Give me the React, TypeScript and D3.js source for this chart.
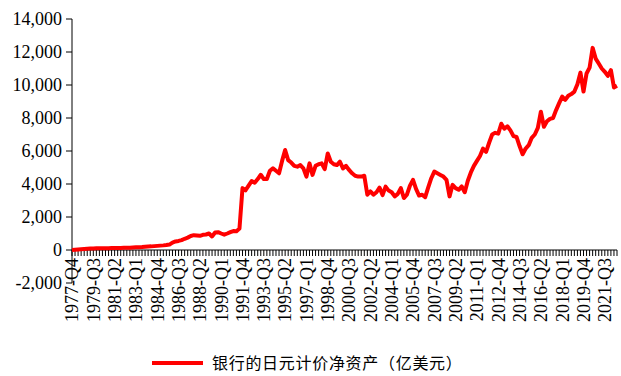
import React from "react";
import * as d3 from "d3";

const startYear = 1977;
const startQuarter = 4;

const netAssets: number[] = [
  0, 15, 30, 45, 60, 75, 85, 95, 100, 100,
  105, 110, 110, 115, 120, 120, 125, 130, 135, 140,
  150, 160, 170, 180, 195, 210, 220, 235, 250, 265,
  280, 300, 330, 450, 520, 550, 600, 680, 750, 850,
  900, 880, 860, 920, 940, 1000, 820, 1060, 1080, 1000,
  930, 1000, 1080, 1150, 1130, 1300, 3750, 3620, 3900, 4180,
  4080, 4300, 4560, 4300, 4300, 4800, 4950, 4800, 4650, 5400,
  6060, 5450, 5300, 5100, 5050, 5150, 4950, 4450, 5250, 4550,
  5100, 5200, 5250, 4900, 5850, 5350, 5200, 5150, 5350, 4950,
  5100, 4850, 4650, 4500, 4450, 4450, 4500, 3350, 3550, 3350,
  3500, 3780, 3330, 3840, 3600, 3500, 3250, 3400, 3750, 3150,
  3350, 3900, 4250, 3700, 3300, 3350, 3200, 3800, 4350, 4750,
  4650, 4550, 4450, 4250, 3250, 3950, 3750, 3650, 3850, 3500,
  4200, 4700, 5100, 5400, 5700, 6150, 5950, 6500, 7000, 7100,
  7050, 7650, 7350, 7500, 7250, 6900, 6850, 6300, 5800, 6150,
  6350, 6800, 7000, 7400, 8380, 7470, 7800, 7950, 8000, 8480,
  8900, 9300, 9100, 9350, 9450, 9600, 10050, 10750, 9600, 10700,
  11050, 12250, 11600, 11300, 11000, 10800, 10550, 10900, 9850, 9950,
];

const yTicks: number[] = [-2000, 0, 2000, 4000, 6000, 8000, 10000, 12000, 14000];

const xTickLabels: string[] = [
  "1977-Q4", "1979-Q3", "1981-Q2", "1983-Q1", "1984-Q4", "1986-Q3", "1988-Q2",
  "1990-Q1", "1991-Q4", "1993-Q3", "1995-Q2", "1997-Q1", "1998-Q4", "2000-Q3",
  "2002-Q2", "2004-Q1", "2005-Q4", "2007-Q3", "2009-Q2", "2011-Q1", "2012-Q4",
  "2014-Q3", "2016-Q2", "2018-Q1", "2019-Q4", "2021-Q3",
];

const seriesName = "银行的日元计价净资产（亿美元）";

const categories: string[] = netAssets.map((_, i) => {
  const q = startQuarter - 1 + i;
  return `${startYear + Math.floor(q / 4)}-Q${(q % 4) + 1}`;
});

export default function App() {
  const W = 621;
  const H = 376;
  const left = 72;
  const right = 617;
  const top = 19;
  const bottom = 283;

  const x = d3.scaleLinear().domain([0, categories.length - 1]).range([left, right]);
  const y = d3.scaleLinear().domain([-2000, 14000]).range([bottom, top]);
  const y0 = y(0);

  const line = d3
    .line<number>()
    .x((_, i) => x(i))
    .y((d) => y(d));

  const fmt = (v: number) => d3.format(",")(v).replace("\u2212", "-");
  const serif = "'Liberation Serif', 'DejaVu Serif', serif";

  return (
    <svg
      width={W}
      height={H}
      style={{ position: "absolute", left: 0, top: 0, background: "#fff" }}
    >
      {/* y axis */}
      <line x1={left} x2={left} y1={top} y2={bottom} stroke="#000" strokeWidth={1} />
      {yTicks.map((t) => (
        <g key={t}>
          <line x1={left - 6} x2={left} y1={y(t)} y2={y(t)} stroke="#000" strokeWidth={1} />
          <text
            x={left - 10}
            y={y(t)}
            dy="0.35em"
            textAnchor="end"
            fontFamily={serif}
            fontSize={18}
            fill="#000"
          >
            {fmt(t)}
          </text>
        </g>
      ))}

      {/* x axis */}
      <line x1={left} x2={right} y1={y0} y2={y0} stroke="#000" strokeWidth={1} />
      {categories.map((c, i) => (
        <line key={c} x1={x(i)} x2={x(i)} y1={y0} y2={y0 + 6} stroke="#000" strokeWidth={1} />
      ))}
      {categories.map((c, i) =>
        xTickLabels.includes(c) ? (
          <text
            key={"l" + c}
            transform={`translate(${x(i)},${y0 + 8}) rotate(-90)`}
            dy="0.35em"
            textAnchor="end"
            fontFamily={serif}
            fontSize={18}
            fill="#000"
          >
            {c}
          </text>
        ) : null
      )}

      {/* series */}
      <path
        d={line(netAssets) || ""}
        fill="none"
        stroke="#FF0000"
        strokeWidth={4}
        strokeLinejoin="round"
      />

      {/* legend */}
      <line x1={152} x2={203} y1={363} y2={363} stroke="#FF0000" strokeWidth={4} />
      <text
        x={212}
        y={369}
        fontFamily="'Noto Sans CJK SC', sans-serif"
        fontSize={16}
        letterSpacing={0.7}
        fill="#000"
      >
        {seriesName}
      </text>
    </svg>
  );
}
